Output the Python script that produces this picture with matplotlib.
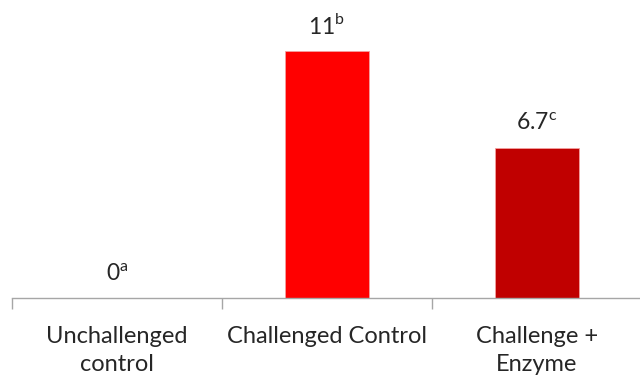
import matplotlib
matplotlib.use("Agg")
import matplotlib.pyplot as plt

# lesion score by treatment group
groups = ["Unchallenged\ncontrol", "Challenged Control", "Challenge +\nEnzyme"]
values = [0, 11, 6.7]
letters = ["a", "b", "c"]
bar_colors = ["#FF0000", "#FF0000", "#C00000"]

plt.rcParams['font.family'] = ['Lato', 'DejaVu Sans']

fig = plt.figure(figsize=(6.4, 3.78), dpi=100)
W, H = 640, 378
ax = fig.add_axes([12 / W, 80 / H, 630 / W, 269 / H])

x = list(range(len(groups)))
ax.bar(x, values, width=0.4, color=bar_colors, edgecolor="#F4A0A0", linewidth=0.6)

for xi, v, s in zip(x, values, letters):
    label = f"{v:g}" + r"$^{\mathregular{" + s + "}}$"
    ax.annotate(label, (xi, v), xytext=(0, 12.5), textcoords="offset points",
                ha="center", va="baseline", fontsize=16.5, color="#262626",
                annotation_clip=False)

ax.set_xlim(-0.5, 2.5)
ax.set_ylim(0, 12)

for side in ["top", "right", "left"]:
    ax.spines[side].set_visible(False)
ax.spines["bottom"].set_color("#A6A6A6")
ax.spines["bottom"].set_linewidth(1)

ax.set_yticks([])
ax.set_xticks([-0.5, 0.5, 1.5, 2.5])
ax.set_xticklabels([])
ax.tick_params(axis="x", length=8, color="#A6A6A6", width=1)
ax.set_xticks(x, minor=True)
ax.set_xticklabels(groups, minor=True, fontsize=17, color="#262626",
                   linespacing=1.45)
ax.tick_params(axis="x", which="minor", length=0, pad=20)

fig.savefig("out.png", dpi=100)
